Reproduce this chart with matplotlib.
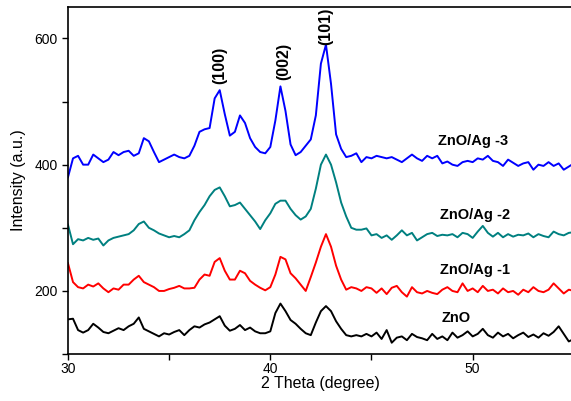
import matplotlib
matplotlib.use("Agg")
import matplotlib.pyplot as plt
from matplotlib.ticker import MultipleLocator

plt.rcParams["font.family"] = ["Liberation Sans", "DejaVu Sans"]

# 2-theta sampling (degree), every 0.25 deg
two_theta = [
    30.00, 30.25, 30.50, 30.75, 31.00, 31.25, 31.50, 31.75, 32.00, 32.25,
    32.50, 32.75, 33.00, 33.25, 33.50, 33.75, 34.00, 34.25, 34.50, 34.75,
    35.00, 35.25, 35.50, 35.75, 36.00, 36.25, 36.50, 36.75, 37.00, 37.25,
    37.50, 37.75, 38.00, 38.25, 38.50, 38.75, 39.00, 39.25, 39.50, 39.75,
    40.00, 40.25, 40.50, 40.75, 41.00, 41.25, 41.50, 41.75, 42.00, 42.25,
    42.50, 42.75, 43.00, 43.25, 43.50, 43.75, 44.00, 44.25, 44.50, 44.75,
    45.00, 45.25, 45.50, 45.75, 46.00, 46.25, 46.50, 46.75, 47.00, 47.25,
    47.50, 47.75, 48.00, 48.25, 48.50, 48.75, 49.00, 49.25, 49.50, 49.75,
    50.00, 50.25, 50.50, 50.75, 51.00, 51.25, 51.50, 51.75, 52.00, 52.25,
    52.50, 52.75, 53.00, 53.25, 53.50, 53.75, 54.00, 54.25, 54.50, 54.75,
    55.00,
]

zno_ag3 = [
    380, 410, 414, 400, 400, 416, 410, 404, 408, 420,
    415, 420, 422, 414, 418, 442, 437, 420, 404, 408,
    412, 416, 412, 410, 414, 430, 452, 456, 458, 505,
    518, 480, 446, 452, 478, 466, 442, 428, 420, 418,
    428, 470, 524, 485, 432, 415, 420, 430, 440, 478,
    560, 590, 528, 448, 425, 412, 414, 418, 404, 412,
    410, 414, 412, 410, 412, 408, 404, 410, 416, 410,
    406, 414, 410, 414, 402, 405, 400, 398, 404, 406,
    404, 410, 408, 414, 406, 404, 398, 408, 403, 398,
    402, 404, 392, 400, 398, 404, 398, 402, 392, 397,
    402,
]

zno_ag2 = [
    305, 274, 282, 280, 284, 281, 283, 272, 280, 284,
    286, 288, 290, 296, 306, 310, 300, 296, 291, 288,
    285, 287, 285, 290, 296, 312, 325, 336, 350, 360,
    364, 350, 334, 336, 340, 330, 320, 310, 298, 312,
    323, 338, 343, 343, 330, 320, 313, 318, 330, 362,
    400, 416, 400, 372, 340, 318, 300, 297, 297, 299,
    288, 290, 284, 288, 281, 288, 296, 288, 292, 280,
    285, 290, 292, 287, 289, 288, 290, 285, 292, 290,
    284, 294, 303, 292, 286, 292, 285, 290, 286, 289,
    288, 291, 285, 290, 287, 285, 294, 290, 288, 292,
    293,
]

zno_ag1 = [
    244, 214, 206, 204, 210, 207, 212, 204, 198, 204,
    202, 210, 210, 218, 224, 214, 210, 206, 200, 200,
    203, 205, 208, 204, 204, 205, 218, 226, 224, 246,
    252, 232, 218, 218, 232, 228, 216, 210, 205, 201,
    206, 226, 254, 250, 228, 220, 210, 200, 222, 245,
    270, 290, 270, 240, 218, 202, 206, 204, 200, 206,
    204, 197, 204, 195, 205, 208, 198, 191, 206, 198,
    196, 200, 197, 195, 202, 206, 200, 198, 212, 200,
    204, 198, 208, 200, 202, 196, 204, 198, 200, 194,
    202, 198, 206, 200, 198, 202, 212, 204, 196, 202,
    200,
]

zno = [
    155, 156, 138, 134, 138, 148, 142, 135, 133, 137,
    141, 138, 144, 148, 158, 140, 136, 132, 128, 133,
    131, 135, 138, 130, 138, 144, 142, 147, 150, 155,
    160, 145, 137, 140, 146, 138, 142, 136, 133, 133,
    136, 165, 180, 168, 154, 148, 140, 133, 130, 150,
    168, 176, 168, 152, 140, 130, 128, 130, 128, 132,
    128, 134, 124, 138, 118, 126, 128, 122, 132, 127,
    125, 122, 132, 124, 128, 122, 134, 126, 130, 136,
    128, 132, 140, 130, 126, 134, 128, 132, 125, 130,
    134, 127, 131, 126, 133, 129, 135, 144, 132, 120,
    124,
]

series = [
    ("ZnO/Ag -3", zno_ag3, "#0000FF"),
    ("ZnO/Ag -2", zno_ag2, "#008080"),
    ("ZnO/Ag -1", zno_ag1, "#FF0000"),
    ("ZnO", zno, "#000000"),
]
# sample labels (left x, centre y) and peak labels
sample_label_pos = [(48.3, 438), (48.4, 320), (48.4, 233), (48.45, 157)]
peak_labels = ["(100)", "(002)", "(101)"]
peak_label_pos = [(37.5, 558), (40.65, 563), (42.72, 619)]

fig = plt.figure(figsize=(5.71, 4.01), dpi=100)
ax = fig.add_axes([0.119, 0.117, 0.886, 0.866])

for (name, values, color), (lx, ly) in zip(series, sample_label_pos):
    ax.plot(two_theta, values, color=color, linewidth=1.4)
    ax.text(lx, ly, name, ha="left", va="center", fontsize=10.5, fontweight="bold")

for text, (px, py) in zip(peak_labels, peak_label_pos):
    ax.text(px, py, text, rotation=90, ha="center", va="center",
            fontsize=11.5, fontweight="bold")

ax.set_xlim(30, 55)
ax.set_ylim(100, 650)
ax.xaxis.set_major_locator(MultipleLocator(10))
ax.xaxis.set_minor_locator(MultipleLocator(5))
ax.yaxis.set_major_locator(MultipleLocator(200))
ax.yaxis.set_minor_locator(MultipleLocator(100))
ax.tick_params(which="both", direction="out", length=4, width=1, labelsize=10)
ax.tick_params(axis="x", pad=2)
ax.spines["right"].set_visible(False)
for side in ("left", "bottom", "top"):
    ax.spines[side].set_linewidth(1.2)
ax.set_xlabel("2 Theta (degree)", fontsize=11.5, labelpad=0)
ax.set_ylabel("Intensity (a.u.)", fontsize=11.5, labelpad=6)

fig.savefig("out.png", dpi=100, facecolor="white")
